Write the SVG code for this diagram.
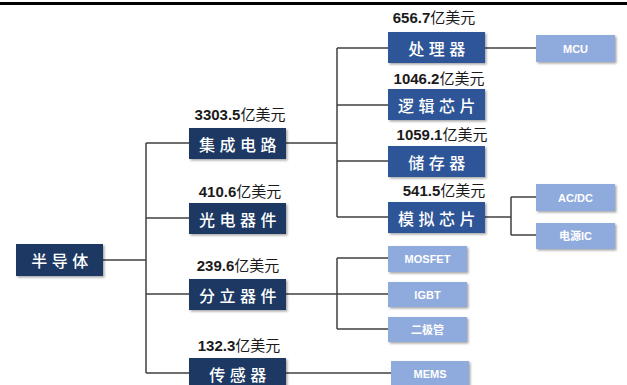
<svg xmlns="http://www.w3.org/2000/svg" width="627" height="385" viewBox="0 0 627 385">
<defs>
<filter id="sh" x="-10%" y="-20%" width="125%" height="150%">
<feDropShadow dx="1.5" dy="1.5" stdDeviation="1.2" flood-color="#000" flood-opacity="0.35"/>
</filter>
<style>
.n1{fill:#1f3864;filter:url(#sh)}
.n2{fill:#2f5597;filter:url(#sh)}
.n3{fill:#8faadc;filter:url(#sh)}
.t{fill:#fff;font-family:"Noto Sans CJK SC","Liberation Serif",serif;font-size:16px;font-weight:500;letter-spacing:4.5px;text-anchor:middle;dominant-baseline:central}
.s{fill:#fff;font-family:"Liberation Sans","Noto Sans CJK SC",sans-serif;font-size:11px;font-weight:bold;text-anchor:middle;dominant-baseline:central}
.v{fill:#1a1a1a;font-family:"Liberation Sans","Noto Sans CJK SC",sans-serif;font-size:15px;text-anchor:middle}
.v tspan{font-weight:bold}
.c{fill:none;stroke:#404040;stroke-width:1.5}
</style>
</defs>
<rect width="627" height="385" fill="#fff"/>
<rect x="0" y="2" width="627" height="3" fill="#000"/>
<g id="connectors">
<path class="c" d="M103 260H146M146 143V373M146 143H189M146 218H189M146 294H189M146 373H189"/>
<path class="c" d="M286 143H337M337 48V217M337 48H388M337 105H388M337 161H388M337 217H388"/>
<path class="c" d="M485 48H536"/>
<path class="c" d="M485 217H511M511 197V235M511 197H536M511 235H536"/>
<path class="c" d="M286 294H337M337 258V329M337 258H388M337 294H388M337 329H388"/>
<path class="c" d="M286 373H391"/>
</g>
<g id="n-semiconductor"><rect class="n1" x="16" y="244" width="87" height="32"/><text class="t" x="62" y="260">半导体</text></g>
<g id="n-ic"><rect class="n1" x="189" y="128" width="97" height="31"/><text class="t" x="240" y="143.5">集成电路</text><text class="v" x="240" y="120"><tspan>3303.5</tspan>亿美元</text></g>
<g id="n-opto"><rect class="n1" x="189" y="203" width="97" height="31"/><text class="t" x="240" y="218.5">光电器件</text><text class="v" x="240" y="197"><tspan>410.6</tspan>亿美元</text></g>
<g id="n-discrete"><rect class="n1" x="189" y="279" width="97" height="31"/><text class="t" x="240" y="294.5">分立器件</text><text class="v" x="238" y="271"><tspan>239.6</tspan>亿美元</text></g>
<g id="n-sensor"><rect class="n1" x="189" y="358" width="97" height="31"/><text class="t" x="240" y="373.5">传感器</text><text class="v" x="239" y="351"><tspan>132.3</tspan>亿美元</text></g>
<g id="n-processor"><rect class="n2" x="388" y="32" width="97" height="31"/><text class="t" x="439" y="47.5">处理器</text><text class="v" x="434" y="23"><tspan>656.7</tspan>亿美元</text></g>
<g id="n-logic"><rect class="n2" x="388" y="89" width="97" height="31"/><text class="t" x="439" y="104.5">逻辑芯片</text><text class="v" x="439" y="84"><tspan>1046.2</tspan>亿美元</text></g>
<g id="n-memory"><rect class="n2" x="388" y="146" width="97" height="31"/><text class="t" x="439" y="161.5">储存器</text><text class="v" x="442" y="140"><tspan>1059.1</tspan>亿美元</text></g>
<g id="n-analog"><rect class="n2" x="388" y="202" width="97" height="31"/><text class="t" x="439" y="217.5">模拟芯片</text><text class="v" x="444" y="196"><tspan>541.5</tspan>亿美元</text></g>
<g id="n-mcu"><rect class="n3" x="536" y="35" width="79" height="27"/><text class="s" x="575.5" y="48.5">MCU</text></g>
<g id="n-acdc"><rect class="n3" x="536" y="184" width="79" height="27"/><text class="s" x="575.5" y="197.5">AC/DC</text></g>
<g id="n-power"><rect class="n3" x="536" y="223" width="79" height="26"/><text class="s" x="575.5" y="236">电源IC</text></g>
<g id="n-mosfet"><rect class="n3" x="388" y="246" width="79" height="26"/><text class="s" x="427.5" y="259">MOSFET</text></g>
<g id="n-igbt"><rect class="n3" x="388" y="282" width="79" height="25"/><text class="s" x="427.5" y="294.5">IGBT</text></g>
<g id="n-diode"><rect class="n3" x="388" y="317" width="79" height="25"/><text class="s" x="427.5" y="329.5">二极管</text></g>
<g id="n-mems"><rect class="n3" x="391" y="361" width="78" height="28"/><text class="s" x="430" y="374">MEMS</text></g>
</svg>
